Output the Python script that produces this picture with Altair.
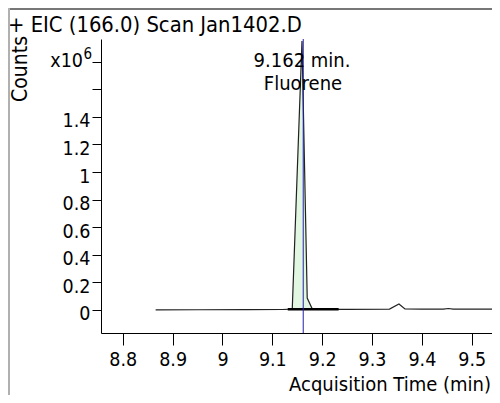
import altair as alt
import pandas as pd

# ---- data (counts in units of 1e6) ----
times = [8.866, 8.95, 9.05, 9.12, 9.140, 9.1595, 9.170, 9.180, 9.20, 9.25,
         9.335, 9.354, 9.366, 9.40, 9.443, 9.453, 9.463, 9.52, 9.56]
counts = [0.0, 0.001, 0.002, 0.003, 0.006, 1.95, 0.086, 0.008, 0.004, 0.004,
          0.006, 0.043, 0.007, 0.005, 0.005, 0.010, 0.005, 0.005, 0.005]

peak_times = [9.140, 9.1595, 9.170, 9.180]
peak_counts = [0.006, 1.95, 0.086, 0.008]

base_times = [9.131, 9.233]
base_counts = [0.004, 0.004]

x_ticks = [8.8, 8.9, 9.0, 9.1, 9.2, 9.3, 9.4, 9.5]
y_ticks = [0, 0.2, 0.4, 0.6, 0.8, 1, 1.2, 1.4, 1.6, 1.8]

rt = [9.162]
title_text = "+ EIC (166.0) Scan Jan1402.D"
ann1 = "9.162 min."
ann2 = "Fluorene"
x_title = "Acquisition Time (min)"
y_title = "Counts"

FONT = "DejaVu Sans Condensed, DejaVu Sans"
X_DOM = [8.7564, 9.5406]
Y_DOM = [-0.1675, 1.9645]

df = pd.DataFrame({"t": times, "c": counts})
dpeak = pd.DataFrame({"t": peak_times, "c": peak_counts})
dbase = pd.DataFrame({"t": base_times, "c": base_counts})
drt = pd.DataFrame({"t": rt})
one = pd.DataFrame({"k": [0]})

xs = alt.Scale(domain=X_DOM, nice=False, zero=False)
ys = alt.Scale(domain=Y_DOM, nice=False, zero=False)

xaxis = alt.Axis(
    title="", values=x_ticks, format=".1~f", grid=False,
    tickSize=12, tickColor="black", domainColor="black",
    labelFont=FONT, labelFontSize=19.5, labelColor="black", labelPadding=5,
    labelFlush=False, labelOverlap=False)
yaxis = alt.Axis(
    title="", values=y_ticks, grid=False,
    labelExpr="datum.value > 1.5 ? '' : format(datum.value, '.1~f')",
    tickSize=9, tickColor="black", domainColor="black",
    labelFont=FONT, labelFontSize=19.5, labelColor="black", labelPadding=2,
    labelOffset=4, labelFlush=False, labelOverlap=False)

X = alt.X("t:Q", scale=xs, axis=xaxis)
Y = alt.Y("c:Q", scale=ys, axis=yaxis)

line = alt.Chart(df).mark_line(color="#222222", strokeWidth=1.2, clip=True).encode(x=X, y=Y)

area = alt.Chart(dpeak).mark_area(color="#e2f7e2", clip=True).encode(
    x=X, y=Y, y2=alt.datum(0))

baseline = alt.Chart(dbase).mark_line(color="black", strokeWidth=2.5, clip=True).encode(x=X, y=Y)

rtline = alt.Chart(drt).mark_rule(color="#2222aa", strokeWidth=1).encode(x=X)

def txt(text, x, y, size, align="left", angle=0, baseline="alphabetic"):
    return alt.Chart(one).mark_text(
        text=text, font=FONT, fontSize=size, color="black",
        align=align, baseline=baseline, angle=angle,
    ).encode(x=alt.value(x), y=alt.value(y))

t_title = txt(title_text, -93, -7, 21.8)
t_ann1 = txt(ann1, 201, 27.5, 20, align="center")
t_ann2 = txt(ann2, 202, 50.5, 20, align="center")
t_x10 = txt("x10", -18, 28, 19.5, align="right")
t_sup = txt("6", -17.5, 19.5, 15)
t_counts = txt(y_title, -74, 30, 21, align="center", angle=270)
t_xtitle = txt(x_title, 390, 352, 20, align="right")

frame_top = alt.Chart(one).mark_rule(color="#777777", strokeWidth=2).encode(
    x=alt.value(-93), x2=alt.value(391), y=alt.value(-30))
frame_left = alt.Chart(one).mark_rule(color="#b0b0b0", strokeWidth=2).encode(
    x=alt.value(-92), y=alt.value(-31), y2=alt.value(356))

chart = alt.layer(
    area, line, baseline, rtline,
    t_title, t_ann1, t_ann2, t_x10, t_sup, t_counts, t_xtitle,
    frame_top, frame_left,
).properties(
    width=391, height=294,
    padding={"left": 93, "top": 31, "right": 0, "bottom": 62},
    autosize=alt.AutoSizeParams(type="none"),
).configure_view(strokeWidth=0)

chart.save("out.html", embed_options={"renderer": "svg", "actions": False})
